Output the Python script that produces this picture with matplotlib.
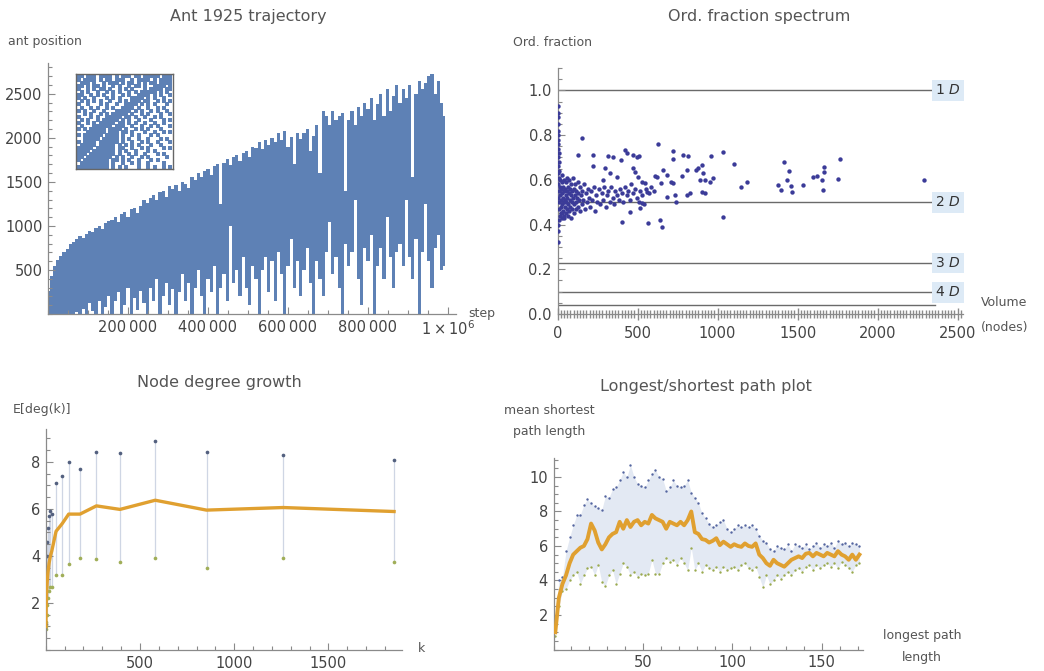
import numpy as np
import matplotlib
matplotlib.use("Agg")
from matplotlib import pyplot as plt
from matplotlib.ticker import MultipleLocator, FixedLocator

plt.rcParams['font.family'] = ['DejaVu Sans']
plt.rcParams['mathtext.fontset'] = 'dejavusans'

# ---------------- data ----------------
# Ant trajectory, one column per 8000 steps (top and bottom of the drawn band)
traj_step = np.arange(125) * 8000
traj_hi = [260, 430, 540, 610, 660, 700, 740, 790, 820, 850,
           880, 860, 910, 940, 930, 980, 1000, 960, 1030, 1060,
           1070, 1100, 1040, 1130, 1160, 1100, 1190, 1200, 1150, 1230,
           1300, 1260, 1320, 1350, 1290, 1380, 1400, 1330, 1450, 1420,
           1460, 1400, 1500, 1480, 1430, 1560, 1520, 1600, 1550, 1620,
           1650, 1580, 1680, 1700, 1250, 1720, 1760, 1690, 1780, 1800,
           1740, 1830, 1850, 1780, 1900, 1880, 1950, 1870, 1980, 1920,
           2000, 1950, 2050, 1980, 2080, 1900, 2010, 1700, 2060, 1990,
           2050, 2100, 1850, 2020, 2150, 1600, 2300, 2250, 2150, 2310,
           2200, 2250, 2280, 1400, 2200, 2300, 2150, 2350, 2250, 2400,
           2330, 2450, 2200, 2380, 2500, 2250, 2550, 2300, 2480, 2600,
           2400, 2550, 2450, 2600, 1550, 2500, 2650, 2550, 2620, 2700,
           2720, 2500, 2650, 2400, 2250]
traj_lo = [0, 0, 0, 0, 0, 0, 0, 0, 0, 20,
           0, 60, 0, 120, 30, 0, 150, 0, 80, 200,
           0, 150, 250, 0, 100, 300, 0, 180, 50, 260,
           120, 0, 300, 150, 400, 0, 200, 350, 100, 280,
           0, 250, 450, 150, 350, 0, 300, 500, 200, 0,
           400, 250, 550, 0, 300, 450, 150, 1000, 350, 500,
           200, 650, 300, 100, 550, 400, 0, 500, 650, 250,
           600, 150, 700, 450, 0, 550, 850, 300, 600, 200,
           500, 750, 350, 0, 600, 400, 200, 700, 1050, 450,
           650, 300, 0, 800, 550, 700, 1300, 400, 100, 750,
           600, 900, 0, 550, 750, 400, 1100, 650, 300, 700,
           800, 550, 1300, 650, 400, 850, 0, 700, 1250, 600,
           300, 750, 900, 500, 550]

# inset: occupied cells of the ant's visit pattern (row 0 = top)
inset_rows = [
    "##.###.####.#.###.##.#####.###",
    "#.####.#.##.###..#.####.#.####",
    ".###.#..#.###.#.##.#.#.##.####",
    "##.#.##.#..#.#..#.##.#..####.#",
    "#..#.#.##.#..#.#.#...#.####.##",
    ".#.#..#..#.#.#..#.#.#####.#.#.",
    "##..#.#.#..#..#.#..####.#.#..#",
    "#.#..#...#.#.#...####.#.#..#..",
    ".#.#.#.#..#..#.#.###.##..#.#.#",
    "#..#...#.#..#..####.#.#.#...#.",
    ".#..#.#..#.#..####.#..#..#.#..",
    "#.#..#..#...#####.#.#..#.#..#.",
    "..#.#..#.#.#####.#..#.#...#..#",
    "#...#.#..#####.##.#..#..#.#...",
    ".#.#..#.#####.#.#..#...#...#.#",
    "#..#.#.#####.##.#.#..#..#..#..",
    ".#...######.###..#..#..#.#...#",
    "#.#.#####.####.#..#.#.#...#...",
    "...######.###.##.#...#..#..#.#",
    "#.######.####.#..#.#...#.#....",
    "..#####.#####.#.#..#..#...#.#.",
    "#.####.######.#..#..#.#..#...#",
    ".#####.#####.#.#.#.#...#..#...",
    "#####.######.##..#..#.#....#.#",
    "####.#######.#.#..#...#.#.....",
    "###.########.#..#.#..#...#.#..",
    "##.########.#.#..#..#.#.....#.",
    "#.########.##.#.#..#...#.#....",
    ".#########.#..#..#.#..#....#..",
    "##########.#.#.#...#..#.#..#.#",
]

# ordering fraction vs volume
ofr_x = [2, 3, 2, 4, 3, 5, 4, 6, 3, 7, 5, 8, 4, 9, 6, 3, 5, 4, 10, 20, 30, 42,
         5, 6, 8, 9, 10, 12, 13, 15, 16, 18, 20, 21, 23, 25, 26, 28, 30, 31, 33,
         35, 36, 38, 40, 41, 43, 45, 46, 48, 50, 52, 54, 55, 57, 59, 60, 62, 64,
         66, 68, 70, 72, 74, 76, 78, 80, 82, 84, 86, 88, 90, 93, 95, 97, 100,
         103, 105, 108, 110, 113, 116, 118, 121, 125, 128, 131, 135, 138, 142,
         146, 150, 155, 160, 165, 170, 176, 182, 188, 195, 202, 210, 218, 225,
         232, 240, 248,
         258, 266, 275, 284, 292, 300, 310, 318, 326, 335, 344, 352, 362, 372,
         382, 392, 402, 412, 422, 432, 442, 452, 462, 472, 484, 495, 506, 518,
         530, 542, 555, 570, 585, 600,
         150, 129, 219, 219, 296, 315, 348, 394, 419, 433, 473, 494, 510, 473,
         483, 504, 525, 546, 627, 719, 719, 660, 681, 608, 619, 712, 723, 733,
         740, 785, 817, 779, 806, 865, 875, 900, 906, 890, 921, 958, 952, 973,
         904, 921, 827, 806, 1035, 1035, 1104, 1146, 1181, 1379, 1394, 1417,
         1448, 1431, 1456, 1462, 1535, 1598, 1623, 1650, 1665, 1667, 1656, 1754,
         1765, 2291, 567, 640, 650, 400, 452, 681, 644, 560, 525, 515, 369, 327,
         285]
ofr_y = [0.93, 0.90, 0.88, 0.85, 0.82, 0.80, 0.78, 0.76, 0.74, 0.72, 0.70,
         0.68, 0.66, 0.64, 0.63, 0.40, 0.37, 0.32, 0.42, 0.45, 0.43, 0.44,
         0.58, 0.52, 0.47, 0.61, 0.55, 0.50, 0.44, 0.57, 0.53, 0.60, 0.48, 0.56,
         0.51, 0.45, 0.59, 0.54, 0.49, 0.62, 0.52, 0.46, 0.57, 0.50, 0.55, 0.43,
         0.60, 0.51, 0.48, 0.56, 0.53, 0.45, 0.59, 0.50, 0.47, 0.55, 0.61, 0.52,
         0.44, 0.57, 0.49, 0.54, 0.46, 0.60, 0.51, 0.56, 0.48, 0.53, 0.43, 0.58,
         0.50, 0.55, 0.47, 0.61, 0.52, 0.49, 0.56, 0.45, 0.53, 0.58, 0.50, 0.47,
         0.55, 0.52, 0.59, 0.48, 0.54, 0.51, 0.46, 0.57, 0.53, 0.49, 0.55, 0.51,
         0.58, 0.47, 0.54, 0.50, 0.56, 0.52, 0.48, 0.55, 0.51, 0.57, 0.46, 0.53,
         0.50,
         0.56, 0.49, 0.54, 0.51, 0.57, 0.48, 0.53, 0.55, 0.50, 0.57, 0.52, 0.49,
         0.55, 0.53, 0.51, 0.56, 0.54, 0.50, 0.57, 0.53, 0.55, 0.51, 0.58, 0.54,
         0.56, 0.52, 0.50, 0.55, 0.53, 0.49, 0.56, 0.54, 0.57, 0.55,
         0.785, 0.713, 0.713, 0.663, 0.655, 0.706, 0.703, 0.688, 0.734, 0.721,
         0.709, 0.703, 0.706, 0.651, 0.636, 0.614, 0.591, 0.584, 0.762, 0.728,
         0.695, 0.643, 0.621, 0.618, 0.614, 0.591, 0.584, 0.532, 0.502, 0.713,
         0.706, 0.618, 0.646, 0.646, 0.651, 0.666, 0.632, 0.599, 0.599, 0.706,
         0.591, 0.606, 0.547, 0.539, 0.539, 0.532, 0.725, 0.435, 0.670, 0.569,
         0.591, 0.577, 0.554, 0.678, 0.640, 0.599, 0.572, 0.547, 0.577, 0.614,
         0.618, 0.599, 0.636, 0.658, 0.554, 0.603, 0.695, 0.599, 0.406, 0.420,
         0.388, 0.413, 0.458, 0.525, 0.587, 0.547, 0.495, 0.473, 0.614, 0.629,
         0.599]
dim_levels = [1.0, 0.5, 0.228, 0.098, 0.04]
dim_labels = ['1 $D$', '2 $D$', '3 $D$', '4 $D$', '']

# node degree growth
deg_k = [1, 2, 3, 5, 8, 12, 18, 25, 32, 55, 87, 122, 182, 269, 394, 581, 853, 1260, 1848]
deg_mean = [1.0, 1.6, 2.0, 2.5, 2.9, 3.3, 3.7, 4.0, 4.2, 5.05, 5.37, 5.78, 5.78,
            6.13, 5.98, 6.37, 5.95, 6.06, 5.89]
deg_hi = [1.1, 2.5, 3.2, 4.0, 4.6, 5.2, 5.7, 5.9, 5.8, 7.12, 7.41, 8.0, 7.68,
          8.43, 8.36, 8.9, 8.43, 8.29, 8.07]
deg_lo = [0.9, 1.0, 1.2, 1.5, 1.9, 2.2, 2.5, 2.7, 2.7, 3.19, 3.19, 3.65, 3.92,
          3.87, 3.73, 3.92, 3.50, 3.92, 3.73]

# longest / shortest path
path_len = np.arange(1, 172, 2)
path_mean = [1.0, 3.0, 3.8, 4.3, 5.0, 5.5, 5.7, 5.9, 6.0, 6.4,
             7.3, 6.9, 6.2, 5.8, 6.1, 6.5, 6.7, 6.8, 7.4, 7.0,
             7.5, 7.1, 7.4, 7.5, 7.2, 7.4, 7.3, 7.8, 7.6, 7.5,
             7.4, 7.0, 7.4, 7.3, 7.2, 7.4, 7.2, 7.5, 8.0, 6.8,
             6.7, 6.4, 6.35, 6.2, 6.3, 6.45, 6.05, 6.25, 6.1, 5.95,
             6.1, 6.0, 5.95, 6.15, 6.0, 5.95, 6.15, 5.5, 5.3, 5.0,
             4.85, 5.2, 5.0, 4.9, 4.8, 5.0, 5.2, 5.3, 5.4, 5.3,
             5.55, 5.6, 5.4, 5.6, 5.5, 5.4, 5.6, 5.5, 5.4, 5.7,
             5.5, 5.4, 5.2, 5.5, 5.2, 5.5]
path_hi = [1.5, 4.0, 4.2, 5.7, 6.5, 7.2, 7.8, 7.8, 8.4, 8.7,
           8.5, 8.3, 8.2, 8.1, 8.9, 8.8, 9.3, 9.4, 9.8, 10.3,
           10.0, 10.7, 10.0, 9.6, 9.5, 9.4, 9.8, 10.2, 10.4, 10.0,
           9.9, 9.2, 9.4, 9.8, 9.5, 9.4, 9.5, 9.8, 9.1, 8.8,
           8.5, 7.9, 7.6, 7.3, 7.1, 7.2, 7.4, 7.5, 7.0, 6.8,
           7.0, 7.2, 7.1, 7.2, 7.1, 7.2, 7.0, 6.6, 6.3, 6.2,
           5.8, 5.7, 6.0, 5.9, 5.8, 6.1, 5.7, 6.1, 6.0, 5.9,
           6.1, 5.8, 6.0, 6.2, 5.9, 6.1, 6.0, 6.2, 5.9, 6.3,
           6.1, 6.2, 6.0, 6.2, 6.1, 6.0]
path_lo = [0.8, 2.5, 3.4, 3.5, 4.0, 4.3, 4.5, 3.8, 4.3, 4.7,
           4.8, 4.3, 4.9, 3.9, 3.7, 4.3, 4.6, 3.8, 4.4, 5.0,
           4.8, 4.3, 4.5, 4.2, 4.4, 4.3, 4.4, 5.2, 4.4, 4.4,
           5.0, 5.3, 5.1, 5.2, 4.9, 5.3, 5.0, 4.6, 5.9, 4.6,
           5.0, 4.5, 4.9, 4.7, 4.6, 4.8, 4.5, 4.8, 4.6, 4.7,
           4.8, 4.6, 4.9, 5.0, 4.7, 4.6, 4.8, 4.2, 3.6, 4.3,
           3.8, 4.0, 4.3, 4.1, 4.3, 4.5, 4.3, 4.6, 4.7, 4.5,
           4.8, 4.9, 4.6, 4.9, 4.7, 4.9, 5.0, 4.8, 5.0, 4.7,
           5.1, 4.9, 4.7, 4.5, 4.9, 5.0]

# ---------------- layout helpers (pixel coordinates) ----------------
W, H = 1044, 671
BLUE = '#5E81B5'
ORANGE = '#E0A030'
GREY_TXT = '#555555'

fig = plt.figure(figsize=(W / 100, H / 100), dpi=100)


def box(l, t, r, b):
    return [l / W, 1 - b / H, (r - l) / W, (b - t) / H]


def put(x, y, s, size=9, **kw):
    fig.text(x / W, 1 - y / H, s, fontsize=size, color=GREY_TXT, **kw)


def mma_axes(ax):
    # Mathematica style: only the two axes, ticks pointing inward
    for side in ['top', 'right']:
        ax.spines[side].set_visible(False)
    for side in ['left', 'bottom']:
        ax.spines[side].set_color('#8a8a8a')
        ax.spines[side].set_linewidth(0.9)
    ax.tick_params(which='both', direction='in', color='#8a8a8a',
                   labelcolor='#444444', labelsize=10.5, width=0.8, pad=4)
    ax.tick_params(which='major', length=5)
    ax.tick_params(which='minor', length=3)
    ax.patch.set_alpha(0)


# ---------------- Ant 1925 trajectory ----------------
ax1 = fig.add_axes(box(48, 63, 456, 314))
ax1.fill_between(traj_step, traj_lo, traj_hi, step='mid', color=BLUE, lw=0)
ax1.set_xlim(0, 1.02e6)
ax1.set_ylim(0, 2850)
mma_axes(ax1)
ax1.xaxis.set_major_locator(FixedLocator([2e5, 4e5, 6e5, 8e5, 1e6]))
ax1.set_xticklabels(['200\u2009000', '400\u2009000', '600\u2009000', '800\u2009000',
                     r'$1\times10^{6}$'])
ax1.xaxis.set_minor_locator(MultipleLocator(50000))
ax1.yaxis.set_major_locator(FixedLocator([500, 1000, 1500, 2000, 2500]))
ax1.yaxis.set_minor_locator(MultipleLocator(100))
put(248, 17, 'Ant 1925 trajectory', size=11.5, ha='center', va='center')
put(8, 42, 'ant position', ha='left', va='center')
put(468, 313, 'step', ha='left', va='center')

# inset
axi = fig.add_axes(box(76, 74, 173, 169))
ix, iy = [], []
for r, row in enumerate(inset_rows):
    for c, ch in enumerate(row):
        if ch == '#':
            ix.append(c)
            iy.append(len(inset_rows) - 1 - r)
axi.scatter(ix, iy, s=6, marker='s', color=BLUE, linewidths=0)
axi.set_xlim(-0.8, 29.8)
axi.set_ylim(-0.8, 29.8)
axi.set_xticks([])
axi.set_yticks([])
for sp in axi.spines.values():
    sp.set_color('#666666')
    sp.set_linewidth(1.0)

# ---------------- Ord. fraction spectrum ----------------
ax2 = fig.add_axes(box(557.5, 68, 962.5, 314))
for lev, lab in zip(dim_levels, dim_labels):
    ax2.plot([0, 2360], [lev, lev], color='#6a6a6a', lw=1.0, zorder=1)
    if lab:
        ax2.text(2440, lev, lab, ha='center', va='center', fontsize=10,
                 color='#333333', clip_on=False,
                 bbox=dict(boxstyle='square,pad=0.25', fc='#DDEAF6', ec='none'))
ax2.scatter(ofr_x, ofr_y, s=10, color='#3B3B98', linewidths=0, zorder=3)
ax2.set_xlim(0, 2530)
ax2.set_ylim(0, 1.1)
mma_axes(ax2)
ax2.xaxis.set_major_locator(FixedLocator([0, 500, 1000, 1500, 2000, 2500]))
ax2.xaxis.set_minor_locator(MultipleLocator(20))
ax2.tick_params(axis='x', which='minor', direction='inout', length=6, width=1.0,
                color='#8a8a8a')
ax2.tick_params(axis='x', which='major', direction='inout', length=9, width=1.0)
ax2.yaxis.set_major_locator(FixedLocator([0, 0.2, 0.4, 0.6, 0.8, 1.0]))
ax2.set_yticklabels(['0.0', '0.2', '0.4', '0.6', '0.8', '1.0'])
ax2.yaxis.set_minor_locator(MultipleLocator(0.05))
put(759, 17, 'Ord. fraction spectrum', size=11.5, ha='center', va='center')
put(513, 43, 'Ord. fraction', ha='left', va='center')
put(1004, 303, 'Volume', ha='center', va='center')
put(1005, 327, '(nodes)', ha='center', va='center')

# ---------------- Node degree growth ----------------
ax3 = fig.add_axes(box(45.7, 429, 402, 650))
ax3.vlines(deg_k, deg_lo, deg_hi, color='#CFD6E4', lw=0.9, zorder=1)
ax3.scatter(deg_k, deg_hi, s=7, color='#53607F', linewidths=0, zorder=2)
ax3.scatter(deg_k, deg_lo, s=7, color='#A0AE58', linewidths=0, zorder=2)
ax3.plot(deg_k, deg_mean, color=ORANGE, lw=2.4, solid_joinstyle='round', zorder=3)
ax3.set_xlim(0, 1890)
ax3.set_ylim(0, 9.4)
mma_axes(ax3)
ax3.xaxis.set_major_locator(FixedLocator([500, 1000, 1500]))
ax3.xaxis.set_minor_locator(MultipleLocator(100))
ax3.yaxis.set_major_locator(FixedLocator([2, 4, 6, 8]))
ax3.yaxis.set_minor_locator(MultipleLocator(0.5))
put(219, 383, 'Node degree growth', size=11.5, ha='center', va='center')
put(13, 410, 'E[deg(k)]', ha='left', va='center')
put(418, 648, 'k', ha='left', va='center')

# ---------------- Longest/shortest path plot ----------------
ax4 = fig.add_axes(box(553.5, 458, 863, 649.5))
ax4.fill_between(path_len, path_lo, path_hi, color='#E3E9F3', lw=0, zorder=1)
ax4.scatter(path_len, path_hi, s=3, color='#5566A0', linewidths=0, zorder=2)
ax4.scatter(path_len, path_lo, s=3, color='#9AAA50', linewidths=0, zorder=2)
ax4.plot(path_len, path_mean, color=ORANGE, lw=2.8, solid_joinstyle='round', zorder=3)
ax4.set_xlim(0, 173)
ax4.set_ylim(0, 11.1)
mma_axes(ax4)
ax4.xaxis.set_major_locator(FixedLocator([50, 100, 150]))
ax4.xaxis.set_minor_locator(MultipleLocator(10))
ax4.yaxis.set_major_locator(FixedLocator([2, 4, 6, 8, 10]))
ax4.yaxis.set_minor_locator(MultipleLocator(0.5))
put(706, 386, 'Longest/shortest path plot', size=11.5, ha='center', va='center')
put(549, 410, 'mean shortest', ha='center', va='center')
put(549, 432, 'path length', ha='center', va='center')
put(922, 636, 'longest path', ha='center', va='center')
put(922, 658, 'length', ha='center', va='center')

fig.savefig('out.png', dpi=100)
